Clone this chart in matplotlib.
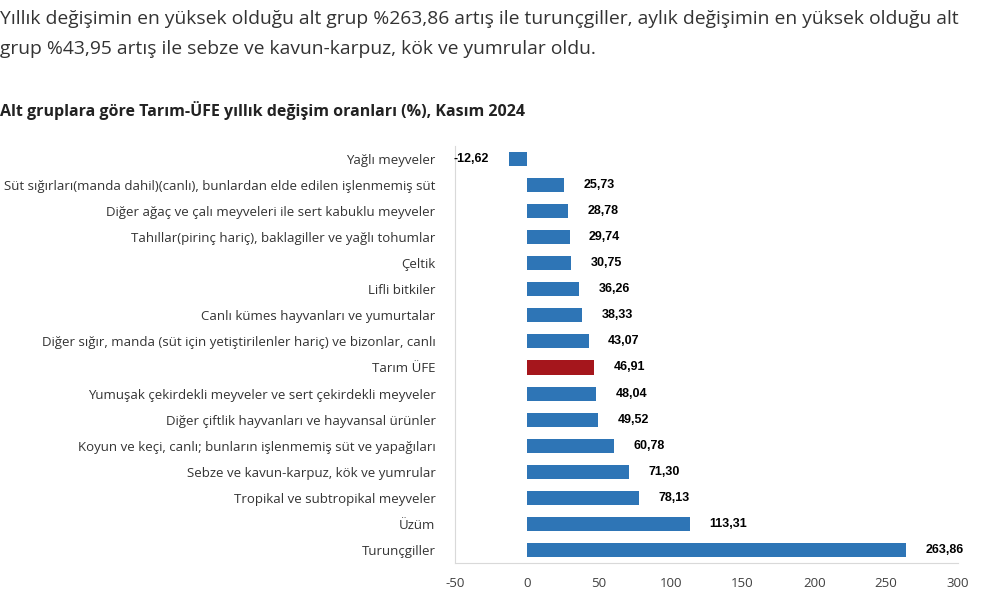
import matplotlib.pyplot as plt

categories = [
    "Yağlı meyveler",
    "Süt sığırları(manda dahil)(canlı), bunlardan elde edilen işlenmemiş süt",
    "Diğer ağaç ve çalı meyveleri ile sert kabuklu meyveler",
    "Tahıllar(pirinç hariç), baklagiller ve yağlı tohumlar",
    "Çeltik",
    "Lifli bitkiler",
    "Canlı kümes hayvanları ve yumurtalar",
    "Diğer sığır, manda (süt için yetiştirilenler hariç) ve bizonlar, canlı",
    "Tarım ÜFE",
    "Yumuşak çekirdekli meyveler ve sert çekirdekli meyveler",
    "Diğer çiftlik hayvanları ve hayvansal ürünler",
    "Koyun ve keçi, canlı; bunların işlenmemiş süt ve yapağıları",
    "Sebze ve kavun-karpuz, kök ve yumrular",
    "Tropikal ve subtropikal meyveler",
    "Üzüm",
    "Turunçgiller",
]
values = [-12.62, 25.73, 28.78, 29.74, 30.75, 36.26, 38.33, 43.07,
          46.91, 48.04, 49.52, 60.78, 71.30, 78.13, 113.31, 263.86]
highlight = "Tarım ÜFE"
xticks = [-50, 0, 50, 100, 150, 200, 250, 300]

blue = "#2E75B6"
red = "#A5161C"

fig = plt.figure(figsize=(9.97, 5.98), dpi=100)

# intro paragraph and chart title
fig.text(0.0, 0.968, "Yıllık değişimin en yüksek olduğu alt grup %263,86 artış ile turunçgiller, aylık değişimin en yüksek olduğu alt",
         fontsize=13.9, color="#333333", family="Open Sans", va="center")
fig.text(0.0, 0.918, "grup %43,95 artış ile sebze ve kavun-karpuz, kök ve yumrular oldu.",
         fontsize=13.9, color="#333333", family="Open Sans", va="center")
fig.text(0.0, 0.815, "Alt gruplara göre Tarım-ÜFE yıllık değişim oranları (%), Kasım 2024",
         fontsize=11.5, color="#222222", family="Open Sans", weight="bold", va="center")

ax = fig.add_axes([0.4564, 0.0585, 0.5045, 0.6975])
pos = list(range(len(categories)))
colors = [red if c == highlight else blue for c in categories]
ax.barh(pos, values, height=0.54, color=colors)

for p, v in zip(pos, values):
    txt = f"{v:.2f}".replace(".", ",")
    if v < 0:
        ax.annotate(txt, (v, p), xytext=(-14, 0), textcoords="offset points",
                    ha="right", va="center", fontsize=9, weight="bold",
                    family="Liberation Sans", color="black")
    else:
        ax.annotate(txt, (v, p), xytext=(14, 0), textcoords="offset points",
                    ha="left", va="center", fontsize=9, weight="bold",
                    family="Liberation Sans", color="black")

ax.set_ylim(len(categories) - 0.5, -0.5)
ax.set_xlim(-50, 300)
ax.set_yticks(pos)
ax.set_yticklabels(categories, family="Open Sans", fontsize=9.55, color="#333333")
ax.set_xticks(xticks)
ax.set_xticklabels([str(t) for t in xticks], family="Open Sans", fontsize=9.5, color="#404040")
ax.tick_params(axis="both", length=0)
ax.tick_params(axis="y", pad=14)
ax.tick_params(axis="x", pad=10)

for s in ["top", "right"]:
    ax.spines[s].set_visible(False)
ax.spines["left"].set_color("#d9d9d9")
ax.spines["bottom"].set_color("#d9d9d9")

fig.savefig("out.png", dpi=100)
